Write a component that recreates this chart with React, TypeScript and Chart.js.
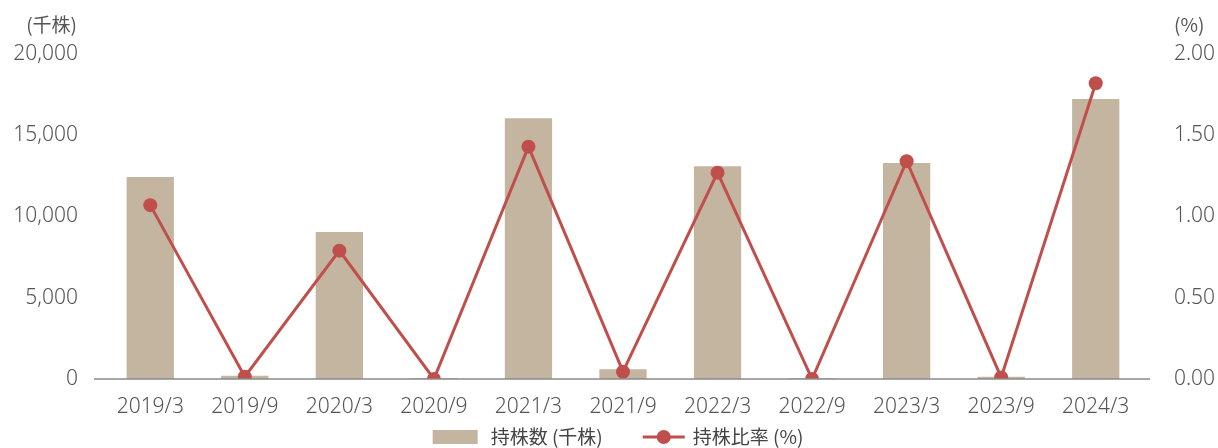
import React, { useEffect, useRef } from "react";
import { Chart, registerables } from "chart.js";
Chart.register(...registerables);

const categories = ["2019/3", "2019/9", "2020/3", "2020/9", "2021/3", "2021/9", "2022/3", "2022/9", "2023/3", "2023/9", "2024/3"];
const sharesHeld = [12430, 200, 9050, 40, 16050, 600, 13100, 50, 13300, 140, 17230];
const shareRatio = [1.07, 0.014, 0.79, 0.0, 1.43, 0.045, 1.27, 0.0, 1.34, 0.01, 1.82];
const leftTickValues = [0, 5000, 10000, 15000, 20000];
const rightTickValues = [0, 0.5, 1.0, 1.5, 2.0];
const barLabel = "持株数 (千株)";
const lineLabel = "持株比率 (%)";
const leftAxisTitle = "(千株)";
const rightAxisTitle = "(%)";

const BAR_COLOR = "#c3b5a0";
const LINE_COLOR = "#c04e4b";
const TEXT_COLOR = "#555555";
const FONT = "'Noto Sans', 'Noto Sans CJK JP', sans-serif";
const CJK_FONT = "'Noto Sans CJK JP', 'Noto Sans', sans-serif";

const decorPlugin = {
  id: "decor",
  beforeDatasetsDraw(chart: any) {
    const { ctx, scales } = chart;
    ctx.save();
    ctx.fillStyle = TEXT_COLOR;
    ctx.font = `19px ${CJK_FONT}`;
    ctx.textBaseline = "middle";
    ctx.textAlign = "right";
    ctx.fillText(leftAxisTitle, scales.y.right - 26, 25);
    ctx.textAlign = "left";
    ctx.fillText(rightAxisTitle, scales.y1.left + 31, 25);
    ctx.restore();
  },
  afterDatasetsDraw(chart: any) {
    const { ctx, chartArea, scales } = chart;
    const y0 = scales.y.getPixelForValue(0);
    ctx.save();
    ctx.strokeStyle = "#8a8a8a";
    ctx.lineWidth = 1.5;
    ctx.beginPath();
    ctx.moveTo(chartArea.left - 9, y0);
    ctx.lineTo(chartArea.right + 7, y0);
    ctx.stroke();
    ctx.restore();
  },
  afterDraw(chart: any) {
    const { ctx, chartArea } = chart;
    ctx.save();
    ctx.font = `19px ${CJK_FONT}`;
    ctx.textBaseline = "middle";
    ctx.textAlign = "left";
    const swatchW = 45;
    const gapText = 13;
    const itemGap = 40;
    const lineW = 42;
    const lineGap = 8;
    const w1 = ctx.measureText(barLabel).width;
    const w2 = ctx.measureText(lineLabel).width;
    const total = swatchW + gapText + w1 + itemGap + lineW + lineGap + w2;
    const cx = (chartArea.left + chartArea.right) / 2 - 5;
    let x = cx - total / 2;
    const y = chartArea.bottom + 58;
    ctx.fillStyle = BAR_COLOR;
    ctx.fillRect(x, y - 7, swatchW, 14);
    x += swatchW + gapText;
    ctx.fillStyle = "#444444";
    ctx.fillText(barLabel, x, y);
    x += w1 + itemGap;
    ctx.strokeStyle = LINE_COLOR;
    ctx.lineWidth = 3;
    ctx.beginPath();
    ctx.moveTo(x, y);
    ctx.lineTo(x + lineW, y);
    ctx.stroke();
    ctx.fillStyle = LINE_COLOR;
    ctx.beginPath();
    ctx.arc(x + lineW / 2, y, 7, 0, Math.PI * 2);
    ctx.fill();
    x += lineW + lineGap;
    ctx.fillStyle = "#444444";
    ctx.fillText(lineLabel, x, y);
    ctx.restore();
  },
};

export default function App() {
  const ref = useRef<HTMLCanvasElement | null>(null);
  useEffect(() => {
    document.body.style.margin = "0";
    const tickFont = { family: FONT, size: 21, weight: 300 as any };
    const chart = new Chart(ref.current!, {
      type: "bar",
      data: {
        labels: categories,
        datasets: [
          {
            type: "line",
            label: lineLabel,
            data: shareRatio,
            yAxisID: "y1",
            borderColor: LINE_COLOR,
            backgroundColor: LINE_COLOR,
            borderWidth: 3,
            pointRadius: 7,
            pointHoverRadius: 7,
            pointBackgroundColor: LINE_COLOR,
            pointBorderWidth: 0,
            tension: 0,
            order: 0,
          } as any,
          {
            type: "bar",
            label: barLabel,
            data: sharesHeld,
            yAxisID: "y",
            backgroundColor: BAR_COLOR,
            categoryPercentage: 1,
            barPercentage: 0.5,
            order: 1,
          },
        ],
      },
      options: {
        animation: false,
        responsive: false,
        maintainAspectRatio: false,
        layout: { padding: { top: 54, left: 0, right: 0, bottom: 0 } },
        plugins: {
          tooltip: { enabled: false },
          legend: { display: false },
        },
        scales: {
          x: {
            grid: { display: false, drawTicks: false },
            border: { display: false },
            ticks: { color: TEXT_COLOR, font: tickFont, padding: 15, maxRotation: 0 },
            afterFit: (s: any) => { s.height = 69; },
          },
          y: {
            position: "left",
            min: 0,
            max: 20000,
            grid: { display: false, drawTicks: false },
            border: { display: false },
            afterBuildTicks: (s: any) => { s.ticks = leftTickValues.map((v) => ({ value: v })); },
            ticks: {
              color: TEXT_COLOR,
              font: tickFont,
              padding: 25,
              callback: (v: any) => Number(v).toLocaleString("en-US"),
            },
            afterFit: (s: any) => { s.width = 103; },
          },
          y1: {
            position: "right",
            min: 0,
            max: 2,
            grid: { display: false, drawTicks: false },
            border: { display: false },
            afterBuildTicks: (s: any) => { s.ticks = rightTickValues.map((v) => ({ value: v })); },
            ticks: {
              color: TEXT_COLOR,
              font: tickFont,
              padding: 31,
              callback: (v: any) => Number(v).toFixed(2),
            },
            afterFit: (s: any) => { s.width = 75; },
          },
        },
      },
      plugins: [decorPlugin],
    });
    return () => chart.destroy();
  }, []);
  return (
    <div style={{ width: 1218, height: 448, overflow: "hidden" }}>
      <canvas ref={ref} width={1218} height={448} style={{ display: "block", width: 1218, height: 448 }} />
    </div>
  );
}
